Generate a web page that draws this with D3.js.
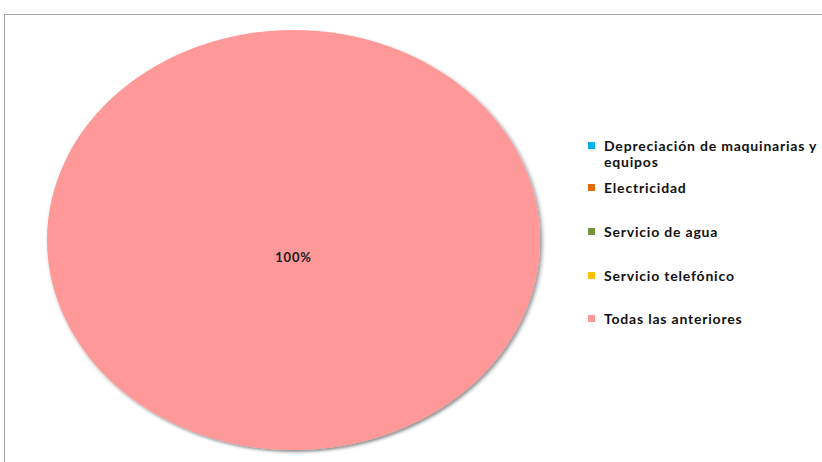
<!DOCTYPE html>
<html>
<head>
<meta charset="utf-8">
<script src="https://cdn.jsdelivr.net/npm/d3@7"></script>
<style>
  html, body { margin: 0; padding: 0; background: #fff; }
  svg { display: block; }
</style>
</head>
<body>
<svg id="chart" width="822" height="462"></svg>
<script>
// Gastos indirectos: share of respondents per category
const categories = [
  "Depreciación de maquinarias y equipos",
  "Electricidad",
  "Servicio de agua",
  "Servicio telefónico",
  "Todas las anteriores"
];
const values = [0, 0, 0, 0, 100];
const colors = ["#00b0f0", "#e36c09", "#77933c", "#ffc000", "#ff9999"];

const svg = d3.select("#chart");
const W = 822, H = 462;

// chart area frame
svg.append("rect")
  .attr("x", 4.5).attr("y", 14.5)
  .attr("width", W + 10).attr("height", H + 10)
  .attr("fill", "#fff")
  .attr("stroke", "#a6a6a6").attr("stroke-width", 1);

// soft drop shadow for the pie
const defs = svg.append("defs");
const f = defs.append("filter").attr("id", "shadow")
  .attr("x", "-10%").attr("y", "-10%").attr("width", "120%").attr("height", "120%");
f.append("feGaussianBlur").attr("in", "SourceAlpha").attr("stdDeviation", 2).attr("result", "b");
f.append("feOffset").attr("in", "b").attr("dx", 1.5).attr("dy", 2.5).attr("result", "o");
f.append("feComponentTransfer").attr("in", "o").attr("result", "s")
  .append("feFuncA").attr("type", "linear").attr("slope", 0.45);
const m = f.append("feMerge");
m.append("feMergeNode").attr("in", "s");
m.append("feMergeNode").attr("in", "SourceGraphic");

const cx = 293.5, cy = 240, rx = 246.5, ry = 210;

const pie = d3.pie().sort(null).value(d => d.value);
const arcs = pie(categories.map((c, i) => ({ name: c, value: values[i], color: colors[i] })));
const arc = d3.arc().innerRadius(0).outerRadius(rx);

const g = svg.append("g")
  .attr("transform", `translate(${cx},${cy}) scale(1,${ry / rx})`)
  .attr("filter", "url(#shadow)");

g.selectAll("path")
  .data(arcs.filter(d => d.value > 0))
  .join("path")
  .attr("d", arc)
  .attr("fill", d => d.data.color);

// percentage labels
const total = d3.sum(values);
const labelArc = d3.arc().innerRadius(rx * 0.1).outerRadius(rx * 0.1);
svg.append("g")
  .selectAll("text")
  .data(arcs.filter(d => d.value > 0))
  .join("text")
  .attr("x", d => cx + (d.value === total ? 0 : labelArc.centroid(d)[0]))
  .attr("y", d => cy + 22 + (d.value === total ? 0 : labelArc.centroid(d)[1] * ry / rx))
  .attr("text-anchor", "middle")
  .attr("font-family", "Lato, Open Sans, sans-serif")
  .attr("font-weight", "bold")
  .attr("font-size", 13)
  .attr("letter-spacing", 0.8)
  .attr("fill", "#1a1a1a")
  .text(d => d3.format(".0%")(d.value / total));

// legend
const legendLines = [
  ["Depreciación de maquinarias y", "equipos"],
  ["Electricidad"],
  ["Servicio de agua"],
  ["Servicio telefónico"],
  ["Todas las anteriores"]
];
const legendY = [151, 193, 237, 281, 324];
const leg = svg.append("g");
categories.forEach((c, i) => {
  const y0 = legendY[i];
  leg.append("rect")
    .attr("x", 588).attr("y", y0 - 9)
    .attr("width", 7).attr("height", 7)
    .attr("fill", colors[i]);
  legendLines[i].forEach((line, j) => {
    leg.append("text")
      .attr("x", 604).attr("y", y0 + j * 16)
      .attr("font-family", "Lato, Open Sans, sans-serif")
      .attr("font-weight", "bold")
      .attr("font-size", 14)
      .attr("letter-spacing", 0.8)
      .attr("fill", "#111")
      .text(line);
  });
});
</script>
</body>
</html>
